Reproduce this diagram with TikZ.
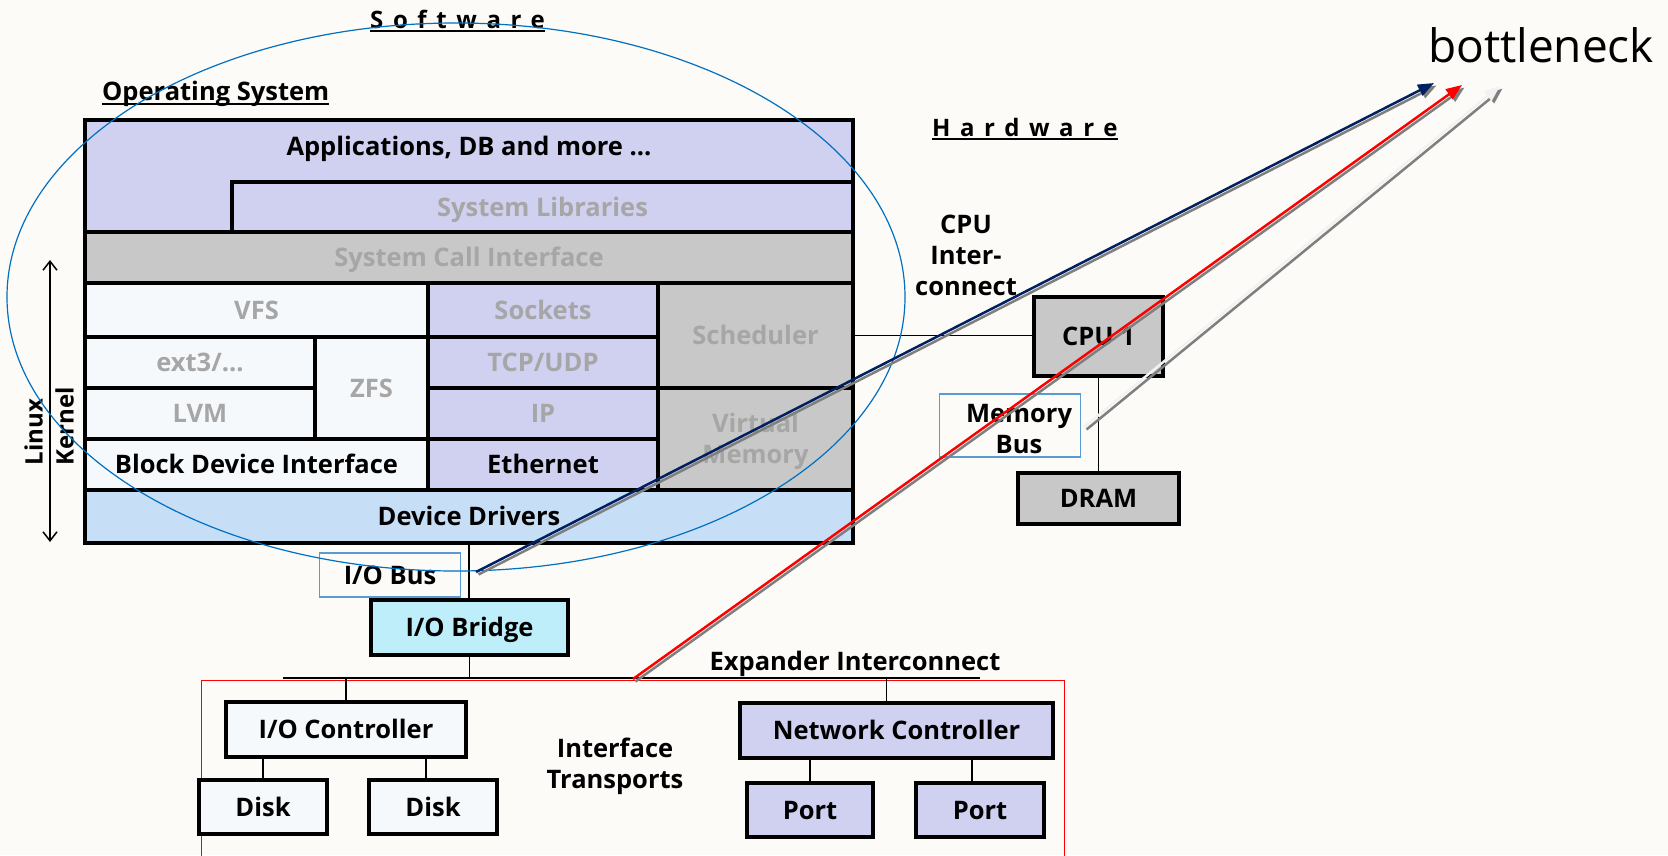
\documentclass[tikz,border=0pt]{standalone}
\usepackage{fontspec}
\setmainfont{Open Sans}
\newfontfamily\spacedfont[LetterSpace=40]{Open Sans}
\usetikzlibrary{arrows.meta}
\definecolor{lav}{RGB}{208,208,240}
\definecolor{gry}{RGB}{200,200,200}
\definecolor{lgt}{RGB}{246,249,252}
\definecolor{ddb}{RGB}{199,223,246}
\definecolor{brg}{RGB}{190,238,250}
\definecolor{gtx}{RGB}{166,166,166}
\definecolor{elb}{RGB}{0,112,192}
\definecolor{bxb}{RGB}{91,155,213}
\definecolor{navyc}{RGB}{0,32,96}
\definecolor{shd}{RGB}{127,127,127}
\definecolor{whitearr}{RGB}{242,242,242}
\definecolor{bgc}{RGB}{252,251,248}
\newcommand\cellnode[8]{\node[cell, fill=#6, text=#7, minimum width={#4-#2}, minimum height={#5-#3}] (#1) at (#2,#3) {#8};}
\begin{document}
\begin{tikzpicture}[x=1pt,y=-1pt,
  txt/.style={font=\fontsize{25.5}{31}\selectfont\bfseries, inner sep=0pt},
  cell/.style={draw=black, line width=4pt, outer sep=0pt, inner sep=0pt, anchor=north west, align=center,
    font=\fontsize{25.5}{31}\selectfont\bfseries, text height=18pt, text depth=0pt},
  conn/.style={draw=black, line width=1.6pt},
  busbox/.style={draw=bxb, line width=1.2pt, inner sep=0pt, font=\fontsize{25.5}{31}\selectfont\bfseries, align=center},
  tipA/.style={-{Triangle[length=16pt,width=12pt]}},
]
\fill[bgc] (0,0) rectangle (1668,855);
\useasboundingbox (0,0) rectangle (1668,855);

% ---------- software stack ----------
\cellnode{apps}{85}{120}{853}{232}{lav}{black}{}
\node[txt] (appstext) at (469,149) {Applications, DB and more ...};
\cellnode{slib}{232}{182}{853}{232}{lav}{gtx}{System Libraries}
\cellnode{sci}{85}{232}{853}{283}{gry}{gtx}{System Call Interface}
\cellnode{vfs}{85}{283}{428}{337}{lgt}{gtx}{VFS}
\cellnode{ext}{85}{337}{315}{388}{lgt}{gtx}{ext3/...}
\cellnode{lvm}{85}{388}{315}{439}{lgt}{gtx}{LVM}
\cellnode{zfs}{315}{337}{428}{439}{lgt}{gtx}{ZFS}
\cellnode{bdi}{85}{439}{428}{490}{lgt}{black}{Block Device Interface}
\cellnode{sock}{428}{283}{658}{337}{lav}{gtx}{Sockets}
\cellnode{tcp}{428}{337}{658}{388}{lav}{gtx}{TCP/UDP}
\cellnode{ip}{428}{388}{658}{439}{lav}{gtx}{IP}
\cellnode{eth}{428}{439}{658}{490}{lav}{black}{Ethernet}
\cellnode{sched}{658}{283}{853}{388}{gry}{gtx}{Scheduler}
\node[cell, fill=gry, text=gtx, minimum width=195pt, minimum height=102pt, text height=49pt, text depth=0pt] (vm) at (658,388) {Virtual\\Memory};
\cellnode{dd}{85}{490}{853}{543}{ddb}{black}{Device Drivers}

% titles
\node[font=\spacedfont\fontsize{24}{28}\selectfont\bfseries, inner sep=0pt, anchor=base west] (sw) at (370,28) {Software};
\draw[line width=1.5pt] ([yshift=-3pt]sw.base west) -- ([yshift=-3pt]sw.base east);
\node[txt, anchor=base west] (os) at (102,100) {Operating System};
\draw[line width=1.5pt] ([yshift=-4pt]os.base west) -- ([yshift=-4pt]os.base east);
\node[font=\spacedfont\fontsize{24}{28}\selectfont\bfseries, inner sep=0pt, anchor=base west] (hw) at (932,136) {Hardware};
\draw[line width=1.5pt] ([yshift=-3pt]hw.base west) -- ([yshift=-3pt]hw.base east);

% Linux kernel arrow
\coordinate (lkt) at (50,260);
\coordinate (lkb) at (50,542);
\draw[line width=1.5pt, {Straight Barb[length=9pt,width=14pt]}-{Straight Barb[length=9pt,width=14pt]}] (lkt) -- (lkb);
\node[font=\fontsize{24}{31}\selectfont\bfseries, rotate=90, align=left, inner sep=0pt] (lk) at (49,426) {Linux\\Kernel};

% ---------- hardware ----------
\node[txt, align=center] (cpuic) at (966,255) {CPU\\Inter-\\connect};
\cellnode{cpu}{1034}{297}{1163}{376}{gry}{black}{CPU 1}
\cellnode{dram}{1018}{473}{1179}{524}{gry}{black}{DRAM}
\draw[conn] (sched.east) -- (sched.east -| cpu.west);
\draw[conn] (cpu.south) -- (cpu.south |- dram.north);
\node[busbox, minimum width=141pt, minimum height=63pt] (mbus) at (1010,425.5) {};
\node[txt, align=center] (mbustext) at (1019,429) {Memory\\Bus};

\cellnode{iobr}{371}{600}{568}{655}{brg}{black}{I/O Bridge}
\node[busbox, minimum width=141pt, minimum height=44pt, text height=18pt, text depth=0pt] (iobus) at (390,575) {I/O Bus};
\draw[conn] (dd.south) -- (dd.south |- iobr.north);

\coordinate (ex1) at (283,678);
\coordinate (ex2) at (980,678);
\draw[line width=2.5pt] (ex1) -- (ex2);
\draw[conn] (iobr.south) -- (iobr.south |- ex1);
\node[txt] (exlab) at (855,664) {Expander Interconnect};
\draw[red, line width=1pt] (201,856) -- (201,680) -- (1064,680) -- (1064,856);

\cellnode{iocon}{226}{702}{466}{757}{lgt}{black}{I/O Controller}
\cellnode{disk1}{199}{780}{327}{834}{lgt}{black}{Disk}
\cellnode{disk2}{369}{780}{497}{834}{lgt}{black}{Disk}
\cellnode{netc}{740}{703}{1053}{758}{lav}{black}{Network Controller}
\cellnode{port1}{747}{783}{873}{837}{lav}{black}{Port}
\cellnode{port2}{916}{783}{1044}{837}{lav}{black}{Port}
\node[txt, align=center] (itr) at (615,766) {Interface\\Transports};

\draw[conn] (iocon.north |- ex1) -- (iocon.north);
\draw[conn] ([xshift=-10pt]netc.north |- ex1) -- ([xshift=-10pt]netc.north);
\draw[conn] (iocon.south -| disk1.north) -- (disk1.north);
\draw[conn] ([xshift=-7pt]disk2.north |- iocon.south) -- ([xshift=-7pt]disk2.north);
\draw[conn] (netc.south -| port1.north) -- (port1.north);
\draw[conn] ([xshift=-8pt]port2.north |- netc.south) -- ([xshift=-8pt]port2.north);

% software ellipse
\draw[elb, line width=1.2pt] (456,297) ellipse [x radius=449, y radius=274];

% ---------- bottleneck ----------
\node[font=\fontsize{46}{52}\selectfont, inner sep=0pt] (bn) at (1541,45) {bottleneck};
\coordinate (a1s) at (476,572);
\coordinate (a1e) at (1434,83);
\coordinate (a2s) at (633,679);
\coordinate (a2e) at (1462,85);
\coordinate (a3s) at (1084,427);
\coordinate (a3e) at (1500,86);
\draw[shd, line width=2.5pt, tipA] ([shift={(2.5,2.5)}]a1s) -- ([shift={(2.5,2.5)}]a1e);
\draw[navyc, line width=2.5pt, tipA] (a1s) -- (a1e);
\draw[shd, line width=2.5pt, tipA] ([shift={(2.5,2.5)}]a2s) -- ([shift={(2.5,2.5)}]a2e);
\draw[red, line width=2.5pt, tipA] (a2s) -- (a2e);
\draw[shd, line width=2.5pt, tipA] ([shift={(2.5,2.5)}]a3s) -- ([shift={(2.5,2.5)}]a3e);
\draw[whitearr, line width=2.5pt, tipA] (a3s) -- (a3e);
\end{tikzpicture}
\end{document}
